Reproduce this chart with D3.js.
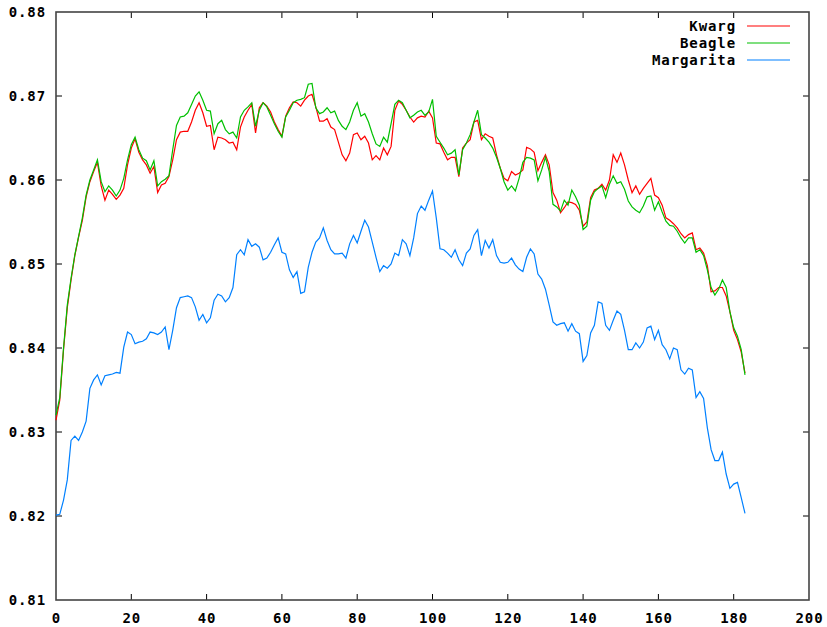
<!DOCTYPE html>
<html>
<head>
<meta charset="utf-8">
<script src="https://cdn.jsdelivr.net/npm/d3@7/dist/d3.min.js"></script>
<style>
  html, body { margin: 0; padding: 0; background: #fff; }
  svg { display: block; }
  .lbl { font-family: "DejaVu Sans Mono", monospace; font-weight: bold; font-size: 14px; fill: #000; letter-spacing: 0.9px; }
</style>
</head>
<body>
<svg id="chart" width="827" height="627"></svg>
<script>
// Series values, one per generation index 0..183
const kwarg = [
  0.8314,0.8338,0.8398,0.8448,0.8481,0.8510,0.8532,0.8552,0.8580,0.8598,
  0.8610,0.8621,0.8593,0.8576,0.8588,0.8583,0.8577,0.8582,0.8590,0.8618,
  0.8638,0.8649,0.8633,0.8624,0.8618,0.8608,0.8616,0.8585,0.8594,0.8596,
  0.8604,0.8624,0.8648,0.8657,0.8658,0.8658,0.8669,0.8683,0.8692,0.8680,
  0.8664,0.8665,0.8636,0.8651,0.8650,0.8648,0.8644,0.8645,0.8636,0.8663,
  0.8675,0.8683,0.8690,0.8656,0.8686,0.8692,0.8688,0.8681,0.8669,0.8660,
  0.8652,0.8676,0.8686,0.8693,0.8692,0.8688,0.8695,0.8700,0.8702,0.8687,
  0.8670,0.8670,0.8673,0.8663,0.8660,0.8645,0.8630,0.8623,0.8632,0.8654,
  0.8656,0.8648,0.8652,0.8644,0.8624,0.8629,0.8624,0.8638,0.8630,0.8640,
  0.8683,0.8694,0.8690,0.8683,0.8675,0.8669,0.8674,0.8676,0.8675,0.8682,
  0.8674,0.8644,0.8643,0.8633,0.8624,0.8627,0.8627,0.8604,0.8638,0.8644,
  0.8648,0.8669,0.8671,0.8648,0.8655,0.8652,0.8650,0.8630,0.8614,0.8602,
  0.8599,0.8610,0.8606,0.8608,0.8612,0.8639,0.8637,0.8633,0.8611,0.8621,
  0.8630,0.8618,0.8585,0.8576,0.8561,0.8567,0.8574,0.8573,0.8571,0.8564,
  0.8545,0.8550,0.8579,0.8588,0.8590,0.8595,0.8588,0.8600,0.8630,0.8621,
  0.8632,0.8618,0.8600,0.8585,0.8593,0.8583,0.8590,0.8596,0.8602,0.8582,
  0.8579,0.8570,0.8555,0.8552,0.8548,0.8543,0.8536,0.8531,0.8535,0.8537,
  0.8517,0.8519,0.8513,0.8498,0.8467,0.8468,0.8472,0.8472,0.8462,0.8443,
  0.8421,0.8410,0.8395,0.8370
];

const beagle = [
  0.8320,0.8341,0.8400,0.8451,0.8483,0.8511,0.8533,0.8555,0.8582,0.8600,
  0.8612,0.8624,0.8598,0.8586,0.8593,0.8588,0.8581,0.8588,0.8602,0.8624,
  0.8642,0.8651,0.8636,0.8626,0.8623,0.8612,0.8623,0.8593,0.8598,0.8601,
  0.8605,0.8636,0.8665,0.8675,0.8676,0.8680,0.8690,0.8700,0.8705,0.8695,
  0.8683,0.8682,0.8655,0.8667,0.8671,0.8660,0.8655,0.8657,0.8650,0.8675,
  0.8683,0.8687,0.8692,0.8664,0.8683,0.8692,0.8687,0.8677,0.8667,0.8658,
  0.8651,0.8675,0.8683,0.8692,0.8695,0.8696,0.8698,0.8714,0.8715,0.8686,
  0.8679,0.8681,0.8686,0.8680,0.8682,0.8671,0.8664,0.8660,0.8669,0.8683,
  0.8692,0.8676,0.8679,0.8669,0.8655,0.8643,0.8640,0.8651,0.8645,0.8667,
  0.8690,0.8695,0.8692,0.8683,0.8674,0.8677,0.8681,0.8683,0.8677,0.8681,
  0.8696,0.8652,0.8645,0.8638,0.8630,0.8632,0.8636,0.8606,0.8636,0.8644,
  0.8654,0.8669,0.8683,0.8654,0.8650,0.8645,0.8638,0.8627,0.8614,0.8598,
  0.8588,0.8593,0.8587,0.8602,0.8621,0.8627,0.8626,0.8624,0.8599,0.8612,
  0.8627,0.8610,0.8571,0.8568,0.8563,0.8576,0.8570,0.8588,0.8580,0.8570,
  0.8541,0.8545,0.8576,0.8586,0.8590,0.8593,0.8579,0.8595,0.8605,0.8596,
  0.8598,0.8589,0.8575,0.8568,0.8564,0.8561,0.8569,0.8580,0.8581,0.8564,
  0.8574,0.8562,0.8551,0.8546,0.8545,0.8539,0.8531,0.8525,0.8531,0.8531,
  0.8514,0.8517,0.8510,0.8493,0.8472,0.8463,0.8470,0.8481,0.8472,0.8443,
  0.8424,0.8414,0.8398,0.8368
];

const margarita = [
  0.8201,0.8202,0.8219,0.8243,0.8290,0.8295,0.8290,0.8300,0.8313,0.8352,
  0.8362,0.8368,0.8356,0.8367,0.8368,0.8369,0.8371,0.8370,0.8401,0.8419,
  0.8416,0.8405,0.8407,0.8408,0.8411,0.8419,0.8418,0.8416,0.8419,0.8425,
  0.8398,0.8421,0.8448,0.8460,0.8461,0.8462,0.8460,0.8449,0.8433,0.8440,
  0.8430,0.8436,0.8457,0.8464,0.8462,0.8455,0.8460,0.8472,0.8511,0.8517,
  0.8511,0.8529,0.8521,0.8524,0.8520,0.8505,0.8507,0.8514,0.8523,0.8531,
  0.8514,0.8512,0.8493,0.8484,0.8491,0.8465,0.8467,0.8496,0.8514,0.8526,
  0.8531,0.8543,0.8528,0.8517,0.8512,0.8512,0.8513,0.8507,0.8524,0.8534,
  0.8525,0.8539,0.8552,0.8544,0.8526,0.8508,0.8491,0.8498,0.8495,0.8500,
  0.8513,0.8510,0.8529,0.8524,0.8510,0.8531,0.8560,0.8569,0.8564,0.8576,
  0.8587,0.8555,0.8518,0.8517,0.8513,0.8508,0.8517,0.8505,0.8498,0.8513,
  0.8518,0.8534,0.8541,0.8510,0.8528,0.8519,0.8529,0.8510,0.8502,0.8501,
  0.8502,0.8507,0.8499,0.8494,0.8491,0.8508,0.8518,0.8512,0.8488,0.8482,
  0.8470,0.8451,0.8431,0.8427,0.8429,0.8430,0.8420,0.8429,0.8420,0.8417,
  0.8384,0.8391,0.8418,0.8427,0.8455,0.8453,0.8427,0.8421,0.8433,0.8444,
  0.8440,0.8421,0.8398,0.8398,0.8406,0.8400,0.8407,0.8424,0.8426,0.8410,
  0.8421,0.8404,0.8398,0.8387,0.8400,0.8398,0.8374,0.8369,0.8376,0.8374,
  0.8341,0.8348,0.8340,0.8305,0.8279,0.8266,0.8266,0.8276,0.8250,0.8233,
  0.8238,0.8240,0.8222,0.8203
];

const seriesNames = ["Kwarg", "Beagle", "Margarita"];
const seriesColors = ["#ff0000", "#00c000", "#0080ff"];
const xTicks = [0, 20, 40, 60, 80, 100, 120, 140, 160, 180, 200];
const yTicks = [0.81, 0.82, 0.83, 0.84, 0.85, 0.86, 0.87, 0.88];

const svg = d3.select("#chart");
const plotL = 56, plotR = 809, plotT = 12, plotB = 600;

const x = d3.scaleLinear().domain([0, 200]).range([plotL, plotR]);
const y = d3.scaleLinear().domain([0.81, 0.88]).range([plotB, plotT]);

const tickLen = 6;
const axes = svg.append("g");

// inward ticks on all four sides, labels on left and bottom
xTicks.forEach(t => {
  if (t > 0 && t < 200) {
    axes.append("line").attr("x1", x(t)).attr("x2", x(t)).attr("y1", plotB).attr("y2", plotB - tickLen)
      .attr("stroke", "#000").attr("stroke-width", 1);
    axes.append("line").attr("x1", x(t)).attr("x2", x(t)).attr("y1", plotT).attr("y2", plotT + tickLen)
      .attr("stroke", "#000").attr("stroke-width", 1);
  }
  axes.append("text").attr("class", "lbl").attr("x", x(t) + 0.5).attr("y", 623)
    .attr("text-anchor", "middle").text(d3.format("d")(t));
});
yTicks.forEach(t => {
  if (t > 0.81 + 1e-9 && t < 0.88 - 1e-9) {
    axes.append("line").attr("x1", plotL).attr("x2", plotL + tickLen).attr("y1", y(t)).attr("y2", y(t))
      .attr("stroke", "#000").attr("stroke-width", 1);
    axes.append("line").attr("x1", plotR).attr("x2", plotR - tickLen).attr("y1", y(t)).attr("y2", y(t))
      .attr("stroke", "#000").attr("stroke-width", 1);
  }
  axes.append("text").attr("class", "lbl").attr("x", 46).attr("y", y(t) + 5)
    .attr("text-anchor", "end").text(d3.format(".2f")(t));
});

// plot border
axes.append("rect").attr("x", plotL).attr("y", plotT).attr("width", plotR - plotL).attr("height", plotB - plotT)
  .attr("fill", "none").attr("stroke", "#444").attr("stroke-width", 1.6);

const line = d3.line().x((d, i) => x(i)).y(d => y(d));
[kwarg, beagle, margarita].forEach((s, k) => {
  svg.append("path").datum(s).attr("d", line)
    .attr("fill", "none").attr("stroke", seriesColors[k]).attr("stroke-width", 1.2)
    .attr("stroke-linejoin", "miter");
});

// key, top right
const legend = svg.append("g");
seriesNames.forEach((name, k) => {
  const cy = 26 + k * 17;
  legend.append("text").attr("class", "lbl").attr("x", 736).attr("y", cy + 5)
    .attr("text-anchor", "end").text(name);
  legend.append("line").attr("x1", 747).attr("x2", 790).attr("y1", cy).attr("y2", cy)
    .attr("stroke", seriesColors[k]).attr("stroke-width", 1.2);
});
</script>
</body>
</html>
